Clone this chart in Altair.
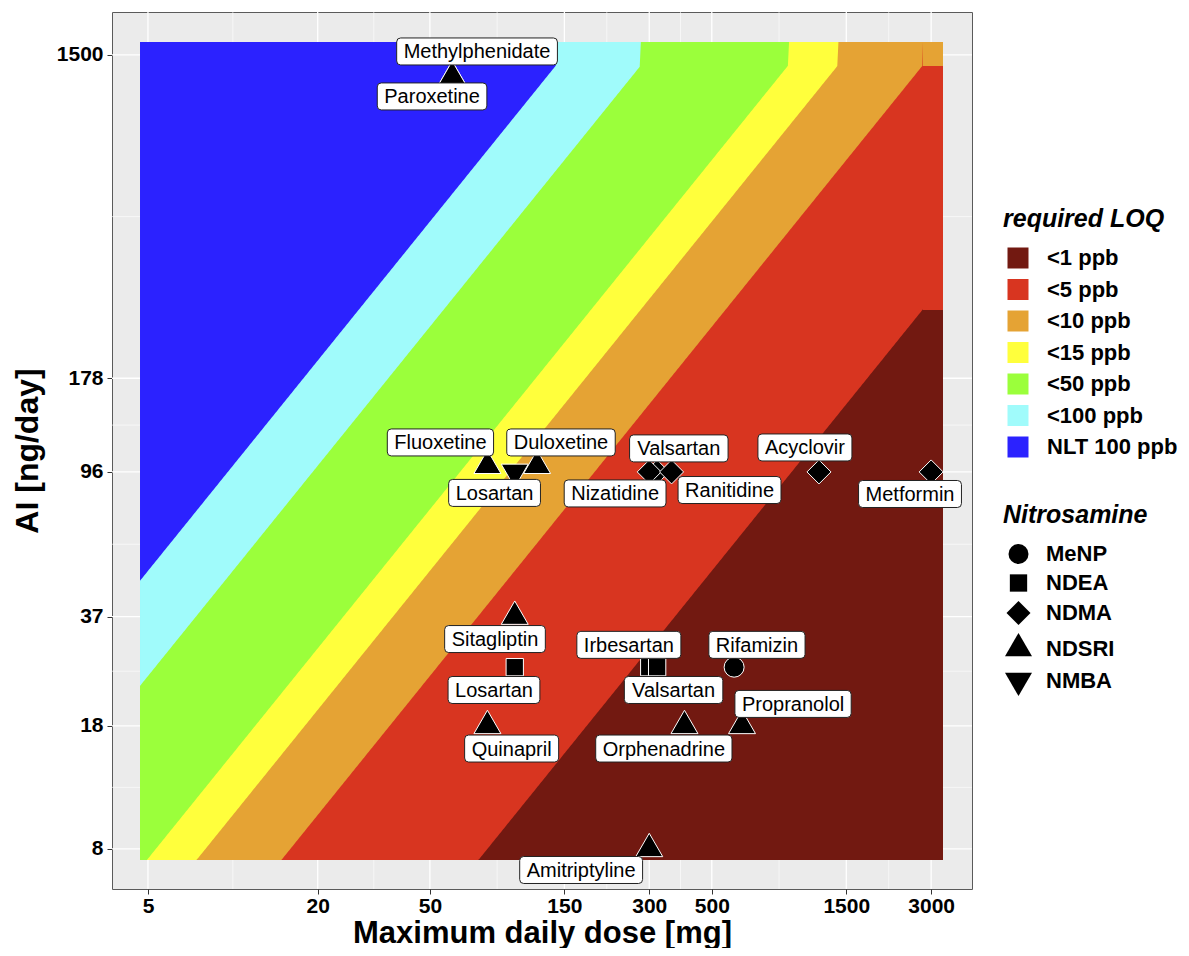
import altair as alt
import numpy as np
import pandas as pd

# ---------------- data ----------------
drugs = ["Methylphenidate", "Paroxetine", "Fluoxetine", "Losartan", "Duloxetine",
         "Valsartan", "Nizatidine", "Ranitidine", "Acyclovir", "Metformin",
         "Sitagliptin", "Losartan", "Quinapril", "Irbesartan", "Valsartan",
         "Rifamizin", "Orphenadrine", "Propranolol", "Amitriptyline"]
nitrosamine = ["NDSRI", "NDSRI", "NDSRI", "NMBA", "NDSRI",
               "NDMA", "NDMA", "NDMA", "NDMA", "NDMA",
               "NDSRI", "NDEA", "NDSRI", "NDEA", "NDEA",
               "MeNP", "NDSRI", "NDSRI", "NDSRI"]
max_dose = [60, 60, 80, 100, 120, 320, 300, 360, 1200, 3000,
            100, 100, 80, 300, 320, 600, 400, 640, 300]
ai_ng_day = [1300, 1300, 100, 96, 100, 96, 96, 96, 96, 96,
             37, 26.5, 18, 26.5, 26.5, 26.5, 18, 18, 8]
# where the (repelled) labels sit, in data units
label_dose = [73.5, 50.9, 54.5, 84.8, 145.9, 382, 227, 578, 1070, 2524,
              85.1, 84.4, 97.5, 254, 366, 723, 338, 971, 172]
label_ai = [1535, 1141, 116.6, 83.6, 116.6, 112.1, 83.3, 85.2, 112.8, 83.0,
            31.9, 22.8, 15.5, 30.7, 22.8, 30.7, 15.5, 20.8, 6.96]

x_ticks = [5, 20, 50, 150, 300, 500, 1500, 3000]
y_ticks = [8, 18, 37, 96, 178, 1500]

loq_labels = ["<1 ppb", "<5 ppb", "<10 ppb", "<15 ppb", "<50 ppb", "<100 ppb", "NLT 100 ppb"]
loq_thresholds = [1, 5, 10, 15, 50, 100, None]
loq_colors = ["#721911", "#D83520", "#E5A334", "#FFFF3C", "#9BFF3B", "#A0FBFB", "#2B22FF"]

nitro_types = ["MeNP", "NDEA", "NDMA", "NDSRI", "NMBA"]

# ---------------- background LOQ map ----------------
LOQ_FACTOR = 10.0          # required LOQ [ppb] = 10 * AI / dose
X0, X1 = 4.685, 3304.0     # extent of the coloured raster
Y0, Y1 = 7.43, 1634.0
XS, XC = 2805.0, 2790.0    # last raster column (start, value used)
YS, YC = 1432.0, 1400.0    # last raster row (start, value used)

xs = np.geomspace(X0, X1, 700)
xs = np.unique(np.concatenate([xs, [XS * 0.9999, XS]]))

rows = []
for lab, thr in zip(loq_labels, loq_thresholds):
    for x in xs:
        if thr is None:
            yb = Y1
        else:
            k = thr / LOQ_FACTOR
            xe = x if x < XS else XC
            m = k * xe
            yb = Y1 if m >= YC else max(m, Y0)
        rows.append({"band": lab, "x": float(x), "yb": float(yb), "ybase": Y0})
region_df = pd.DataFrame(rows)

# ---------------- helpers ----------------
xscale = alt.Scale(type="log", domain=[3.727, 4188], nice=False)
yscale = alt.Scale(type="log", domain=[6.14, 1991], nice=False)

x_axis = alt.Axis(values=x_ticks, title="Maximum daily dose [mg]", grid=False,
                  labelPadding=1, titlePadding=2, titleFontSize=31, format="d")
y_axis = alt.Axis(values=y_ticks, title="AI [ng/day]", grid=False,
                  labelPadding=4, titlePadding=12, format="d")


def X(field):
    return alt.X(f"{field}:Q", scale=xscale, axis=x_axis)


def Y(field):
    return alt.Y(f"{field}:Q", scale=yscale, axis=y_axis)


FONT = "Liberation Sans"

color_legend = alt.Legend(
    title="required LOQ", orient="none", legendX=891, legendY=195,
    titleFont=FONT, titleFontSize=25, titleFontWeight="bold", titleFontStyle="italic",
    titleColor="black", titlePadding=15,
    labelFont=FONT, labelFontSize=22, labelFontWeight="bold", labelColor="black",
    labelOffset=18, symbolType="square", symbolSize=441, symbolStrokeWidth=0,
    symbolOpacity=1, symbolOffset=4, rowPadding=9.5, padding=0)

shape_legend = alt.Legend(
    title="Nitrosamine", orient="none", legendX=891, legendY=491,
    titleFont=FONT, titleFontSize=25, titleFontWeight="bold", titleFontStyle="italic",
    titleColor="black", titlePadding=15,
    labelFont=FONT, labelFontSize=22, labelFontWeight="bold", labelColor="black",
    labelOffset=14, symbolFillColor="black", symbolStrokeWidth=0, symbolOpacity=1,
    symbolOffset=2, rowPadding=7, padding=0)

color_scale = alt.Scale(domain=loq_labels, range=loq_colors)

# ---------------- grid lines ----------------
x_minor = [float(np.sqrt(a * b)) for a, b in zip(x_ticks[:-1], x_ticks[1:])]
y_minor = [float(np.sqrt(a * b)) for a, b in zip(y_ticks[:-1], y_ticks[1:])]

grid_layers = [
    alt.Chart(pd.DataFrame({"v": x_minor})).mark_rule(color="white", strokeWidth=0.6).encode(x=X("v")),
    alt.Chart(pd.DataFrame({"v": y_minor})).mark_rule(color="white", strokeWidth=0.6).encode(y=Y("v")),
    alt.Chart(pd.DataFrame({"v": x_ticks})).mark_rule(color="white", strokeWidth=1.3).encode(x=X("v")),
    alt.Chart(pd.DataFrame({"v": y_ticks})).mark_rule(color="white", strokeWidth=1.3).encode(y=Y("v")),
]

# ---------------- regions (drawn from the widest band to the narrowest) ----------------
region_layers = []
for lab in reversed(loq_labels):
    region_layers.append(
        alt.Chart(region_df).transform_filter(alt.datum.band == lab)
        .mark_area(opacity=1, interpolate="linear", clip=True)
        .encode(x=X("x"), y=Y("yb"), y2="ybase:Q",
                color=alt.Color("band:N", scale=color_scale, legend=color_legend))
    )

# ---------------- points ----------------
pts = pd.DataFrame({"drug": drugs, "Nitrosamine": nitrosamine, "dose": max_dose, "ai": ai_ng_day})
tri_up = "M0,-1.1547L1,0.5774L-1,0.5774Z"
tri_down = "M0,1.1547L1,-0.5774L-1,-0.5774Z"
shape_scale = alt.Scale(domain=nitro_types, range=["circle", "square", "diamond", tri_up, tri_down])
size_scale = alt.Scale(type="ordinal", domain=nitro_types, range=[400, 300, 576, 729, 729])

points = alt.Chart(pts).mark_point(
    filled=True, opacity=1, fill="black", stroke="white", strokeWidth=1
).encode(
    x=X("dose"), y=Y("ai"),
    shape=alt.Shape("Nitrosamine:N", scale=shape_scale, legend=shape_legend, title="Nitrosamine"),
    size=alt.Size("Nitrosamine:N", scale=size_scale, legend=shape_legend, title="Nitrosamine"),
)

# ---------------- labels ----------------
ARIAL = {'a': 556, 'b': 556, 'c': 500, 'd': 556, 'e': 556, 'f': 278, 'g': 556, 'h': 556,
         'i': 222, 'j': 222, 'k': 500, 'l': 222, 'm': 833, 'n': 556, 'o': 556, 'p': 556,
         'q': 556, 'r': 333, 's': 500, 't': 278, 'u': 556, 'v': 500, 'w': 722, 'x': 500,
         'y': 500, 'z': 500, 'A': 667, 'D': 722, 'F': 611, 'I': 278, 'L': 556, 'M': 833,
         'N': 722, 'O': 778, 'P': 667, 'Q': 778, 'R': 722, 'S': 667, 'V': 667}
LABEL_FS = 20
UNIT = 50.0  # symbol size 10000 -> 50 px per path unit


def box_path(w, h, r=4.0):
    hw, hh = w / 2.0, h / 2.0

    def f(v):
        return f"{v / UNIT:.4f}"
    return (f"M{f(-hw + r)},{f(-hh)}L{f(hw - r)},{f(-hh)}Q{f(hw)},{f(-hh)},{f(hw)},{f(-hh + r)}"
            f"L{f(hw)},{f(hh - r)}Q{f(hw)},{f(hh)},{f(hw - r)},{f(hh)}L{f(-hw + r)},{f(hh)}"
            f"Q{f(-hw)},{f(hh)},{f(-hw)},{f(hh - r)}L{f(-hw)},{f(-hh + r)}"
            f"Q{f(-hw)},{f(-hh)},{f(-hw + r)},{f(-hh)}Z")


paths = []
for name in drugs:
    tw = sum(ARIAL.get(c, 556) for c in name) * LABEL_FS / 1000.0
    paths.append(box_path(tw + 14, 27))

labs = pd.DataFrame({"text": drugs, "lx": label_dose, "ly": label_ai, "path": paths})

boxes = alt.Chart(labs).mark_point(
    filled=True, opacity=1, fill="white", stroke="#222222", strokeWidth=1, size=10000
).encode(x=X("lx"), y=Y("ly"), shape=alt.Shape("path:N", scale=None))

texts = alt.Chart(labs).mark_text(
    font=FONT, fontSize=LABEL_FS, color="black", align="center", baseline="middle", dy=1
).encode(x=X("lx"), y=Y("ly"), text="text:N")

chart = alt.layer(*grid_layers, *region_layers, points, boxes, texts).properties(
    width=860, height=877,
    autosize=alt.AutoSizeParams(type="none"),
    padding={"left": 104, "top": 4, "right": 209, "bottom": 59},
).configure_view(
    fill="#EBEBEB", stroke="#5a5a5a", strokeWidth=1
).configure_axis(
    labelFont=FONT, labelFontWeight="bold", labelFontSize=21, labelColor="black",
    tickColor="#333333", tickSize=5, tickWidth=1, domain=False, grid=False,
    titleFont=FONT, titleFontWeight="bold", titleFontSize=32, titleColor="black",
)

chart.save("out.html", embed_options={"renderer": "svg", "actions": False})
